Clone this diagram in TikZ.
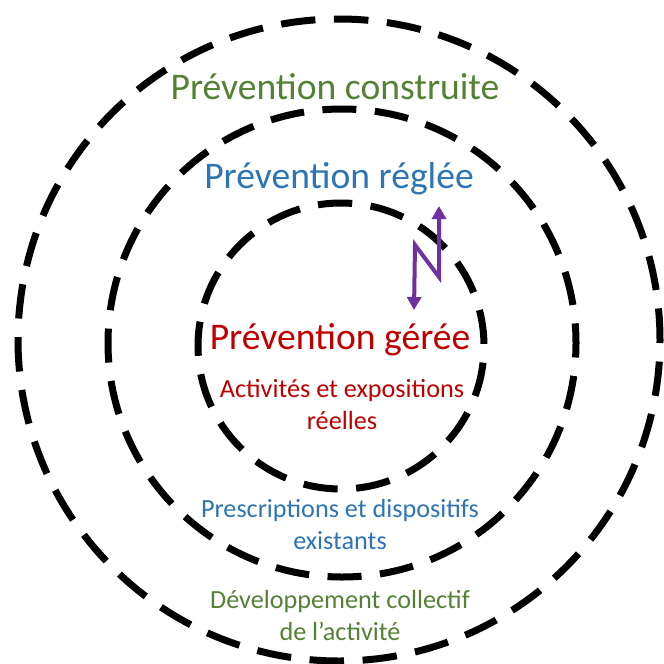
\documentclass[tikz,border=0pt]{standalone}
\usepackage{fontspec}
\setmainfont{Carlito}
\usetikzlibrary{arrows.meta}
\definecolor{cgreen}{HTML}{548235}
\definecolor{cblue}{HTML}{2E75B6}
\definecolor{cred}{HTML}{C00000}
\definecolor{cpurple}{HTML}{7030A0}
\tikzset{
  ring/.style={line width=7pt, black},
  bigtext/.style={font=\fontsize{37.6}{45}\selectfont, anchor=base, inner sep=0pt},
  smalltext/.style={font=\fontsize{26.2}{32}\selectfont, align=center, anchor=base, inner sep=0pt},
  zigzag/.style={line width=4pt, cpurple, {Triangle[length=13pt,width=14pt]}-{Triangle[length=13pt,width=14pt]}}
}
\begin{document}
\begin{tikzpicture}[x=1pt,y=-1pt]
\useasboundingbox (0,0) rectangle (664,664);
\fill[white] (0,0) rectangle (664,664);
% rings
\draw[ring, dash pattern=on 34.5pt off 18.58pt, dash phase=31.5pt] (339+321,340) arc[start angle=0, end angle=360, radius=321];
\draw[ring, dash pattern=on 34pt off 18.51pt, dash phase=19.5pt] (342+234,343) arc[start angle=0, end angle=360, radius=234];
\draw[ring, dash pattern=on 34.3pt off 18.55pt, dash phase=36.2pt] (341+143,346) arc[start angle=0, end angle=360, radius=143];
% titles
\node[bigtext, text=cgreen] (construite) at (335,99) {Prévention construite};
\node[bigtext, text=cblue] (reglee) at (339,188) {Prévention réglée};
\node[bigtext, text=cred] (geree) at (340,349) {Prévention gérée};
% descriptions (anchor = baseline of the last line)
\node[smalltext, text=cred] (activites) at (342,429) {Activités et expositions\\réelles};
\node[smalltext, text=cblue] (prescriptions) at (340,549) {Prescriptions et dispositifs\\existants};
\node[smalltext, text=cgreen] (developpement) at (340,640) {Développement collectif\\de l’activité};
% zigzag arrow
\coordinate (zb) at (414,310);
\coordinate (zl) at (415,245);
\coordinate (zr) at (439,277);
\coordinate (zt) at (439,206);
\draw[zigzag] (zb) -- (zl) -- (zr) -- (zt);
\end{tikzpicture}
\end{document}
